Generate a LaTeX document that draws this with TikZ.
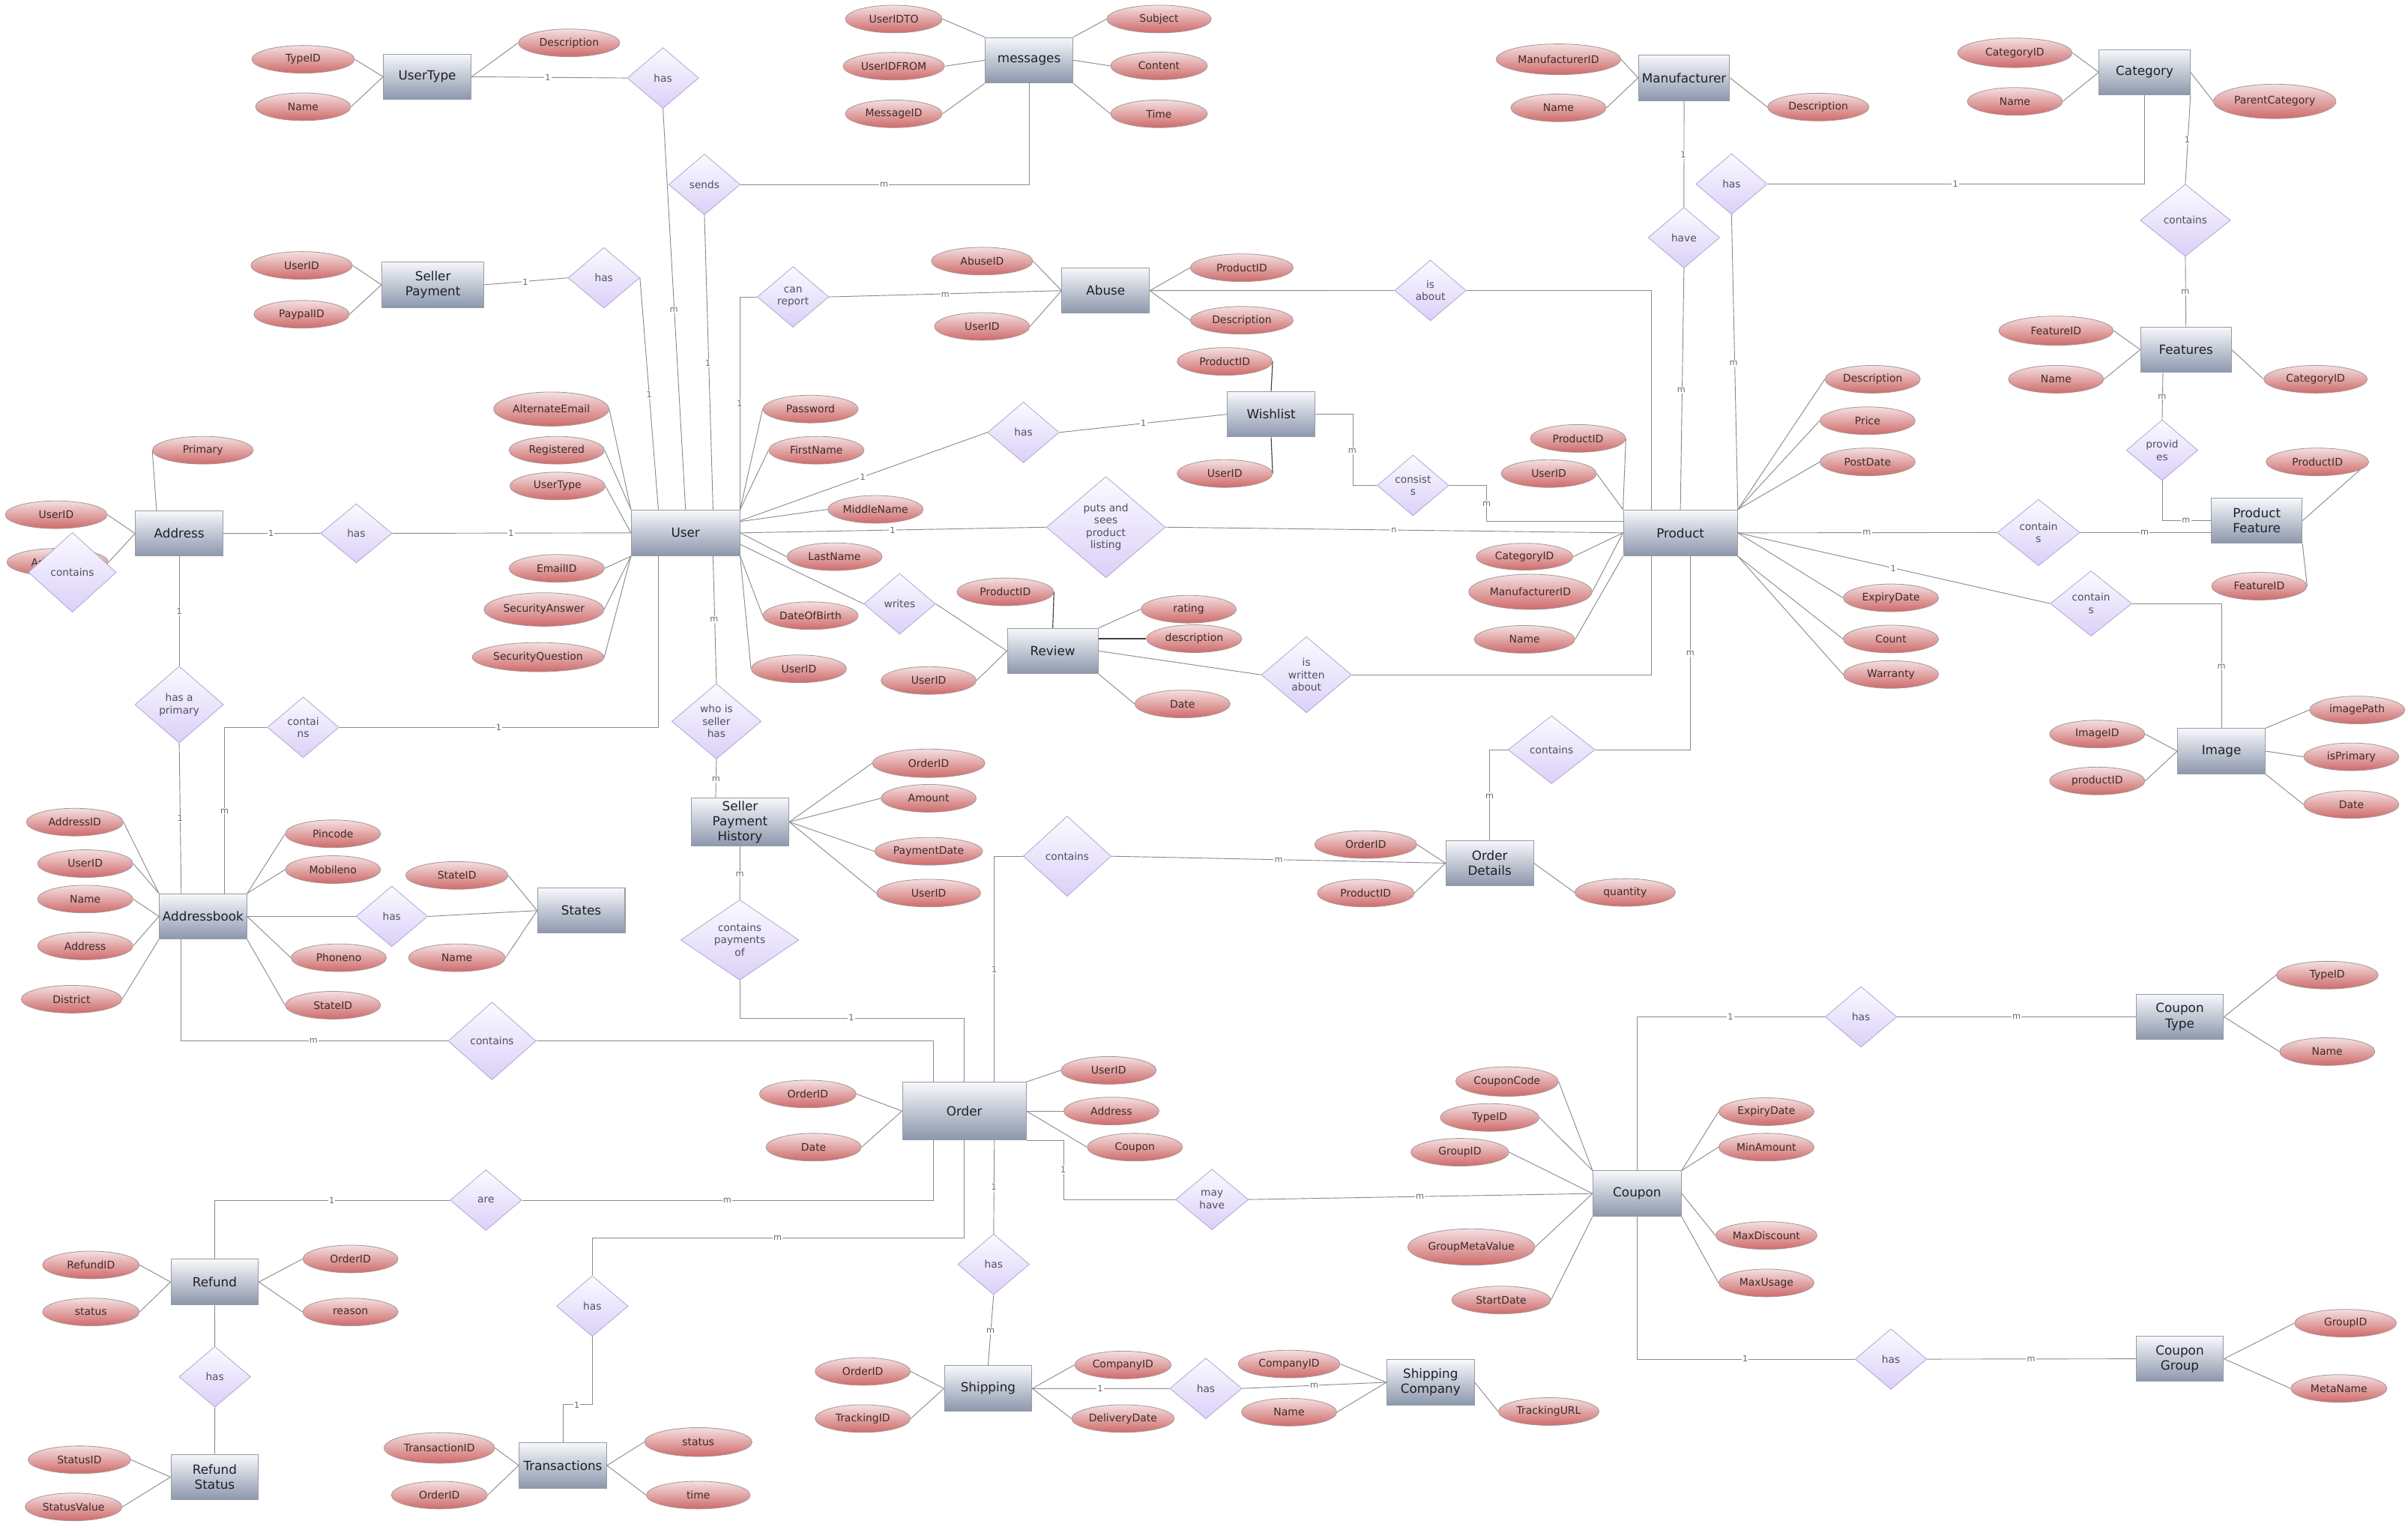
\documentclass[tikz,border=0pt]{standalone}
\usepackage{fontspec}
\setmainfont{DejaVu Sans}
\usetikzlibrary{shapes.geometric}
\pgfdeclarelayer{background}
\pgfsetlayers{background,main}

\definecolor{entTop}{RGB}{247,248,251}
\definecolor{entBot}{RGB}{140,151,172}
\definecolor{entLine}{RGB}{150,155,165}
\definecolor{entText}{RGB}{30,32,42}
\definecolor{attrTop}{RGB}{244,224,224}
\definecolor{attrBot}{RGB}{207,106,106}
\definecolor{attrLine}{RGB}{165,150,150}
\definecolor{attrText}{RGB}{62,42,42}
\definecolor{relTop}{RGB}{251,250,255}
\definecolor{relBot}{RGB}{219,208,248}
\definecolor{relLine}{RGB}{176,166,212}
\definecolor{relText}{RGB}{80,80,96}
\definecolor{wire}{RGB}{138,138,142}
\definecolor{cardText}{RGB}{105,105,105}

\tikzset{
  ent/.style={rectangle,draw=entLine,top color=entTop,bottom color=entBot,line width=0.5pt,
    minimum width=57pt,minimum height=29.5pt,inner sep=0pt,align=center,text=entText,
    font=\fontsize{8.2}{9.8}\selectfont},
  attr/.style={ellipse,draw=attrLine,top color=attrTop,bottom color=attrBot,line width=0.4pt,
    minimum width=62pt,minimum height=18pt,inner sep=0pt,text=attrText,
    font=\fontsize{6.8}{8}\selectfont},
  rel/.style={diamond,draw=relLine,top color=relTop,bottom color=relBot,line width=0.4pt,
    minimum width=46.6pt,minimum height=39.5pt,inner sep=0pt,aspect=1.18,align=center,
    text=relText,font=\fontsize{6.7}{8.1}\selectfont},
  link/.style={draw=wire,line width=0.45pt},
  dark/.style={draw=black!75,line width=0.55pt},
  card/.style={fill=white,inner sep=0.6pt,text=cardText,font=\fontsize{5.5}{6}\selectfont},
}

\begin{document}
\begin{tikzpicture}[x=1pt,y=-1pt]
\useasboundingbox (0,0) rectangle (1568,992);
\begin{pgfonlayer}{background}
  \fill[white] (0,0) rectangle (1568,992);
\end{pgfonlayer}

% user type
\node[ent] (usertype) at (278.2,50) {UserType};
\node[attr,minimum width=66.8pt] (utId) at (197.4,38.6) {TypeID};
\node[attr] (utName) at (197.4,69.5) {Name};
\node[attr,minimum width=66pt] (utDesc) at (370.6,27.9) {Description};
\node[rel] (rUtHas) at (431.7,50.8) {has};

% seller payment
\node[ent,minimum width=66.5pt,minimum height=30pt] (sellerpay) at (281.9,185.4) {Seller\\Payment};
\node[attr,minimum width=66pt] (spUid) at (196.4,172.8) {UserID};
\node[attr] (spPaypal) at (196.4,204.6) {PaypalID};
\node[rel] (rSpHas) at (393.2,180.9) {has};

% messages
\node[ent] (messages) at (670.1,39.2) {messages};
\node[attr,minimum width=63pt] (mTo) at (582,12.4) {UserIDTO};
\node[attr,minimum width=66pt] (mFrom) at (582,43.1) {UserIDFROM};
\node[attr,minimum width=63pt] (mId) at (582,74.1) {MessageID};
\node[attr,minimum width=68pt] (mSubj) at (754.7,12.4) {Subject};
\node[attr,minimum width=63pt] (mCont) at (754.7,42.9) {Content};
\node[attr,minimum width=63pt] (mTime) at (754.7,74.1) {Time};
\node[rel] (rSends) at (458.7,120.1) {sends};

% abuse
\node[ent] (abuse) at (720,189.2) {Abuse};
\node[attr,minimum width=66pt] (abId) at (639.5,170) {AbuseID};
\node[attr] (abUid) at (639.5,212.5) {UserID};
\node[attr,minimum width=67pt] (abPid) at (808.6,174.3) {ProductID};
\node[attr,minimum width=67pt] (abDesc) at (808.6,208.5) {Description};
\node[rel] (rReport) at (516.4,193.3) {can\\report};
\node[rel] (rAbout) at (931.4,189.1) {is\\about};

% wishlist
\node[ent] (wishlist) at (827.7,269.7) {Wishlist};
\node[attr] (wPid) at (797.5,235.3) {ProductID};
\node[attr] (wUid) at (797.5,308.3) {UserID};
\node[rel] (rWish) at (666.4,281.5) {has};
\node[rel] (rConsist) at (920.1,316) {consist\\s};

% manufacturer
\node[ent,minimum width=59.3pt] (manufacturer) at (1096.6,50.7) {Manufacturer};
\node[attr,minimum width=81pt,minimum height=20pt] (mfId) at (1014.8,38.6) {ManufacturerID};
\node[attr] (mfName) at (1014.8,70.2) {Name};
\node[attr,minimum width=66pt] (mfDesc) at (1184,69.7) {Description};
\node[rel] (rHave) at (1096.5,154.7) {have};

% category, features
\node[ent,minimum width=59.2pt] (category) at (1396.5,47) {Category};
\node[attr,minimum width=74.6pt,minimum height=19.2pt] (cId) at (1312,34.4) {CategoryID};
\node[attr] (cName) at (1312,66) {Name};
\node[attr,minimum width=79.7pt,minimum height=22.4pt] (cParent) at (1481.2,66) {ParentCategory};
\node[rel] (rCatHas) at (1127.5,119.8) {has};
\node[rel,minimum width=58.7pt,minimum height=46.9pt] (rCatFeat) at (1423,143.4) {contains};
\node[ent,minimum width=59pt] (features) at (1423.4,227.6) {Features};
\node[attr,minimum width=74.6pt,minimum height=19pt] (fId) at (1338.8,215.3) {FeatureID};
\node[attr] (fName) at (1338.8,246.9) {Name};
\node[attr,minimum width=67.3pt] (fCat) at (1507.8,246.9) {CategoryID};
\node[rel] (rProv) at (1407.9,293.1) {provid\\es};
\node[ent,minimum width=59pt] (prodfeat) at (1469.5,339) {Product\\Feature};
\node[attr,minimum width=66.8pt] (pfPid) at (1509,300.7) {ProductID};
\node[attr] (pfFid) at (1471.1,381.6) {FeatureID};

% address
\node[ent] (address) at (116.7,347.3) {Address};
\node[attr,minimum width=65.5pt] (adPrim) at (132.1,293.1) {Primary};
\node[attr,minimum width=66.3pt] (adUid) at (36.6,335.1) {UserID};
\node[attr,minimum width=66pt] (adId) at (37.5,366) {AddressID};
\node[rel,minimum width=57.2pt,minimum height=51.9pt] (rAdCont) at (47.1,372.6) {contains};
\node[rel,minimum height=38.4pt] (rAdHas) at (232,347.2) {has};
\node[rel,minimum width=57.7pt,minimum height=49.9pt] (rPrimary) at (116.7,458.7) {has a\\primary};

% user
\node[ent,minimum width=70.6pt,minimum height=29.9pt] (user) at (446.4,346.9) {User};
\node[attr,minimum width=75pt,minimum height=22.2pt] (uAlt) at (359,266.3) {AlternateEmail};
\node[attr] (uReg) at (362.5,293.1) {Registered};
\node[attr] (uType) at (363,316.4) {UserType};
\node[attr] (uEmail) at (362.5,370) {EmailID};
\node[attr,minimum width=78pt,minimum height=21.8pt] (uSecA) at (354.2,396.8) {SecurityAnswer};
\node[attr,minimum width=85.7pt,minimum height=19pt] (uSecQ) at (350.4,427.8) {SecurityQuestion};
\node[attr] (uPass) at (527.8,266.3) {Password};
\node[attr] (uFirst) at (531.6,293.1) {FirstName};
\node[attr] (uMid) at (570.1,331.6) {MiddleName};
\node[attr] (uLast) at (543.4,362.4) {LastName};
\node[attr] (uDob) at (527.8,400.8) {DateOfBirth};
\node[attr] (uUid) at (520.2,435.4) {UserID};
\node[rel,minimum width=77.4pt,minimum height=65.8pt] (rPuts) at (720.1,343.2) {puts and\\sees\\product\\listing};
\node[rel] (rWrites) at (585.8,393.1) {writes};
\node[rel,minimum width=58.2pt,minimum height=49pt] (rSeller) at (466.5,469.6) {who is\\seller\\has};
\node[rel] (rBookCont) at (197.4,473.5) {contai\\ns};

% product
\node[ent,minimum width=74.3pt,minimum height=29.9pt] (product) at (1094.2,346.9) {Product};
\node[attr] (pPid) at (1027.5,285.4) {ProductID};
\node[attr] (pUid) at (1008.5,308.3) {UserID};
\node[attr] (pDesc) at (1219.4,246.9) {Description};
\node[attr] (pPrice) at (1216.1,273.9) {Price};
\node[attr] (pPost) at (1216.1,300.7) {PostDate};
\node[attr] (pExp) at (1231.3,389.2) {ExpiryDate};
\node[attr] (pCount) at (1231.3,416) {Count};
\node[attr] (pWarr) at (1231.3,439.1) {Warranty};
\node[attr,minimum width=63pt,minimum height=17.4pt] (pCat) at (992.7,362.4) {CategoryID};
\node[attr,minimum width=80.2pt,minimum height=22.9pt] (pMf) at (996.5,385.3) {ManufacturerID};
\node[attr,minimum width=65.5pt] (pName) at (992.7,416.2) {Name};
\node[rel,minimum width=53.9pt,minimum height=43.1pt] (rPfCont) at (1327.4,346.7) {contain\\s};
\node[rel,minimum width=53.1pt,minimum height=42.5pt] (rImgCont) at (1361.6,392.9) {contain\\s};

% review
\node[ent,minimum width=59.2pt] (review) at (685.5,423.8) {Review};
\node[attr,minimum width=63pt] (rvPid) at (654.6,385.3) {ProductID};
\node[attr] (rvRating) at (774,396.6) {rating};
\node[attr] (rvDesc) at (777.6,415.8) {description};
\node[attr] (rvDate) at (770,458.3) {Date};
\node[attr] (rvUid) at (604.7,443) {UserID};
\node[rel,minimum width=58.7pt,minimum height=49.5pt] (rWritten) at (850.7,439.3) {is\\written\\about};

% image
\node[ent] (image) at (1446.5,489) {Image};
\node[attr] (imId) at (1365.6,477.9) {ImageID};
\node[attr] (imPid) at (1365.6,508.4) {productID};
\node[attr] (imPath) at (1534.9,462.2) {imagePath};
\node[attr] (imPrim) at (1531.1,492.7) {isPrimary};
\node[attr] (imDate) at (1531.1,523.7) {Date};

% seller payment history
\node[ent,minimum width=63.6pt,minimum height=31.6pt] (sph) at (481.9,535.1) {Seller\\Payment\\History};
\node[attr,minimum width=73.3pt,minimum height=18.5pt] (sphOid) at (604.7,496.9) {OrderID};
\node[attr] (sphAmt) at (604.7,519.7) {Amount};
\node[attr,minimum width=70.3pt] (sphDate) at (604.7,554.2) {PaymentDate};
\node[attr,minimum width=67.8pt] (sphUid) at (604.7,581.4) {UserID};
\node[rel,minimum width=76.9pt,minimum height=52.3pt] (rPayOf) at (481.7,611.9) {contains\\payments\\of};

% order details
\node[ent] (orderdet) at (970,561.9) {Order\\Details};
\node[attr,minimum width=66.5pt] (odOid) at (889.3,549.8) {OrderID};
\node[attr,minimum width=63pt] (odPid) at (889.3,581.4) {ProductID};
\node[attr,minimum width=65.5pt] (odQty) at (1058.2,581) {quantity};
\node[rel,minimum width=56.7pt,minimum height=44.2pt] (rOdCont) at (1010.3,488.1) {contains};
\node[rel,minimum width=57.2pt,minimum height=52.3pt] (rOrdCont) at (694.9,557.4) {contains};

% addressbook, states
\node[ent] (addrbook) at (132.2,596.6) {Addressbook};
\node[attr,minimum width=63pt] (abkId) at (48.7,535.2) {AddressID};
\node[attr] (abkUid) at (55.5,562.2) {UserID};
\node[attr] (abkName) at (55.5,585.3) {Name};
\node[attr] (abkAddr) at (55.5,615.8) {Address};
\node[attr,minimum width=65.5pt] (abkDist) at (46.6,650.5) {District};
\node[attr] (abkPin) at (216.8,542.8) {Pincode};
\node[attr] (abkMob) at (216.8,566.1) {Mobileno};
\node[attr] (abkPhone) at (220.6,623.5) {Phoneno};
\node[attr] (abkState) at (216.8,654.4) {StateID};
\node[rel] (rStateHas) at (255.1,596.6) {has};
\node[ent] (states) at (378.5,592.8) {States};
\node[attr,minimum width=66.5pt] (stId) at (297.5,569.9) {StateID};
\node[attr,minimum width=63pt] (stName) at (297.5,623.5) {Name};
\node[rel,minimum width=57.2pt,minimum height=50.6pt] (rOrderBook) at (320.4,677.7) {contains};

% order
\node[ent,minimum width=80.6pt,minimum height=37.6pt] (order) at (627.9,723.3) {Order};
\node[attr,minimum width=63pt] (oId) at (526,712.2) {OrderID};
\node[attr] (oDate) at (529.8,746.8) {Date};
\node[attr] (oUid) at (721.9,696.8) {UserID};
\node[attr] (oAddr) at (723.7,723.3) {Address};
\node[attr] (oCoup) at (739,746.8) {Coupon};
\node[rel] (rAre) at (316.4,781.3) {are};
\node[rel,minimum width=47.4pt] (rMayHave) at (789.2,780.9) {may\\have};
\node[rel] (rShipHas) at (647,823.1) {has};
\node[rel] (rTransHas) at (385.7,850.3) {has};

% coupon
\node[ent,minimum width=57.5pt] (coupon) at (1066,777) {Coupon};
\node[attr,minimum width=66.8pt,minimum height=19.2pt] (cpCode) at (981.3,704.1) {CouponCode};
\node[attr,minimum width=64.3pt] (cpType) at (970,727.5) {TypeID};
\node[attr,minimum width=63.8pt] (cpGroup) at (950.6,750.1) {GroupID};
\node[attr,minimum width=82.7pt,minimum height=23.6pt] (cpMeta) at (958.1,811.8) {GroupMetaValue};
\node[attr,minimum width=64.5pt] (cpStart) at (977.5,846.3) {StartDate};
\node[attr] (cpExp) at (1150.2,723.7) {ExpiryDate};
\node[attr] (cpMin) at (1150.2,746.8) {MinAmount};
\node[attr,minimum width=66pt] (cpMaxD) at (1150.2,804.3) {MaxDiscount};
\node[attr] (cpMaxU) at (1150.2,835.2) {MaxUsage};
\node[rel] (rCtHas) at (1211.8,662) {has};
\node[ent] (coupontype) at (1419.4,662) {Coupon\\Type};
\node[attr,minimum width=66.3pt] (ctId) at (1515.4,634.8) {TypeID};
\node[attr] (ctName) at (1515.4,684.6) {Name};
\node[rel] (rCgHas) at (1231.3,884.8) {has};
\node[ent] (coupongroup) at (1419.4,884.6) {Coupon\\Group};
\node[attr,minimum width=66.3pt] (cgId) at (1527.3,861.4) {GroupID};
\node[attr,minimum width=62.5pt] (cgMeta) at (1523,903.9) {MetaName};

% refund
\node[ent] (refund) at (139.8,834.6) {Refund};
\node[attr,minimum width=63pt] (rfId) at (59.2,823.5) {RefundID};
\node[attr,minimum width=63pt] (rfStatus) at (59.2,854.1) {status};
\node[attr] (rfOid) at (228.2,819.6) {OrderID};
\node[attr] (rfReason) at (228.2,854.1) {reason};
\node[rel] (rRefHas) at (139.9,896.3) {has};
\node[ent] (refstatus) at (139.8,961.6) {Refund\\Status};
\node[attr,minimum width=66.8pt] (rsId) at (51.7,950.3) {StatusID};
\node[attr,minimum width=63pt] (rsVal) at (47.9,981) {StatusValue};

% transactions
\node[ent] (transactions) at (366.5,954) {Transactions};
\node[attr,minimum width=72.1pt,minimum height=19.9pt] (trId) at (286.1,942.6) {TransactionID};
\node[attr,minimum width=62.5pt] (trOid) at (286.1,973.3) {OrderID};
\node[attr,minimum width=70pt,minimum height=18.8pt] (trStatus) at (454.7,938.8) {status};
\node[attr,minimum width=67.6pt] (trTime) at (454.7,973.3) {time};

% shipping
\node[ent] (shipping) at (643.4,903.9) {Shipping};
\node[attr] (shOid) at (561.8,892.8) {OrderID};
\node[attr] (shTrack) at (561.8,923.5) {TrackingID};
\node[attr,minimum width=62.8pt] (shComp) at (731.2,888.6) {CompanyID};
\node[attr,minimum width=66.8pt] (shDel) at (731.2,923.5) {DeliveryDate};
\node[rel,minimum width=47pt] (rShipCoHas) at (785.2,903.9) {has};
\node[ent] (shipco) at (931.5,899.9) {Shipping\\Company};
\node[attr,minimum width=66.3pt] (scComp) at (839.4,888) {CompanyID};
\node[attr] (scName) at (839.4,919.3) {Name};
\node[attr,minimum width=65.5pt] (scUrl) at (1008.5,918.9) {TrackingURL};

\begin{pgfonlayer}{background}
  % attributes
  \foreach \a in {utId,utName} \draw[link] (\a.east) -- (usertype.west);
  \draw[link] (usertype.east) -- (utDesc.west);
  \foreach \a in {spUid,spPaypal} \draw[link] (\a.east) -- (sellerpay.west);
  \draw[link] (mTo.east) -- (messages.north west);
  \draw[link] (mFrom.east) -- (messages.west);
  \draw[link] (mId.east) -- (messages.south west);
  \draw[link] (messages.north east) -- (mSubj.west);
  \draw[link] (messages.east) -- (mCont.west);
  \draw[link] (messages.south east) -- (mTime.west);
  \foreach \a in {abId,abUid} \draw[link] (\a.east) -- (abuse.west);
  \foreach \a in {abPid,abDesc} \draw[link] (abuse.east) -- (\a.west);
  \draw[dark] (wPid.east) -- (wishlist.north);
  \draw[dark] (wUid.east) -- (wishlist.south);
  \foreach \a in {mfId,mfName} \draw[link] (\a.east) -- (manufacturer.west);
  \draw[link] (manufacturer.east) -- (mfDesc.west);
  \foreach \a in {cId,cName} \draw[link] (\a.east) -- (category.west);
  \draw[link] (category.east) -- (cParent.west);
  \foreach \a in {fId,fName} \draw[link] (\a.east) -- (features.west);
  \draw[link] (features.east) -- (fCat.west);
  \draw[link] (pfPid.east) -- (prodfeat.east);
  \draw[link] (pfFid.east) -- (prodfeat.south east);
  \draw[link] (adPrim.west) -- ([xshift=14pt]address.north west);
  \foreach \a in {adUid,adId} \draw[link] (\a.east) -- (address.west);
  \foreach \a in {uAlt,uReg} \draw[link] (\a.east) -- (user.north west);
  \draw[link] (uType.east) -- (user.west);
  \foreach \a in {uEmail,uSecA,uSecQ} \draw[link] (\a.east) -- (user.south west);
  \foreach \a in {uPass,uFirst} \draw[link] (\a.west) -- (user.north east);
  \draw[link] (uMid.west) -- ([yshift=7.4pt]user.east);
  \draw[link] (uLast.west) -- (user.east);
  \foreach \a in {uDob,uUid} \draw[link] (\a.west) -- (user.south east);
  \foreach \a in {pPid,pUid} \draw[link] (\a.east) -- (product.north west);
  \foreach \a in {pDesc,pPrice,pPost} \draw[link] (product.north east) -- (\a.west);
  \draw[link] (product.east) -- (pExp.west);
  \foreach \a in {pCount,pWarr} \draw[link] (product.south east) -- (\a.west);
  \foreach \a in {pCat,pMf} \draw[link] (\a.east) -- (product.west);
  \draw[link] (pName.east) -- (product.south west);
  \draw[dark] (rvPid.east) -- (review.north);
  \draw[link] (review.north east) -- (rvRating.west);
  \draw[dark] ([yshift=8pt]review.east) -- (rvDesc.west);
  \draw[link] (review.south east) -- (rvDate.west);
  \draw[link] (rvUid.east) -- (review.west);
  \foreach \a in {imId,imPid} \draw[link] (\a.east) -- (image.west);
  \draw[link] (image.north east) -- (imPath.west);
  \draw[link] (image.east) -- (imPrim.west);
  \draw[link] (image.south east) -- (imDate.west);
  \foreach \a in {sphOid,sphAmt,sphDate,sphUid} \draw[link] (sph.east) -- (\a.west);
  \foreach \a in {odOid,odPid} \draw[link] (\a.east) -- (orderdet.west);
  \draw[link] (orderdet.east) -- (odQty.west);
  \foreach \a in {abkId,abkUid} \draw[link] (\a.east) -- (addrbook.north west);
  \foreach \a in {abkName,abkAddr} \draw[link] (\a.east) -- (addrbook.west);
  \draw[link] (abkDist.east) -- (addrbook.south west);
  \foreach \a in {abkPin,abkMob} \draw[link] (addrbook.north east) -- (\a.west);
  \draw[link] (addrbook.east) -- (abkPhone.west);
  \draw[link] (addrbook.south east) -- (abkState.west);
  \foreach \a in {stId,stName} \draw[link] (\a.east) -- (states.west);
  \foreach \a in {oId,oDate} \draw[link] (\a.east) -- (order.west);
  \draw[link] (order.north east) -- (oUid.west);
  \foreach \a in {oAddr,oCoup} \draw[link] (order.east) -- (\a.west);
  \foreach \a in {cpCode,cpType} \draw[link] (\a.east) -- (coupon.north west);
  \foreach \a in {cpGroup,cpMeta} \draw[link] (\a.east) -- (coupon.west);
  \draw[link] (cpStart.east) -- (coupon.south west);
  \foreach \a in {cpExp,cpMin} \draw[link] (coupon.north east) -- (\a.west);
  \draw[link] (coupon.east) -- (cpMaxD.west);
  \draw[link] (coupon.south east) -- (cpMaxU.west);
  \foreach \a in {ctId,ctName} \draw[link] (coupontype.east) -- (\a.west);
  \foreach \a in {cgId,cgMeta} \draw[link] (coupongroup.east) -- (\a.west);
  \foreach \a in {rfId,rfStatus} \draw[link] (\a.east) -- (refund.west);
  \foreach \a in {rfOid,rfReason} \draw[link] (refund.east) -- (\a.west);
  \foreach \a in {rsId,rsVal} \draw[link] (\a.east) -- (refstatus.west);
  \foreach \a in {trId,trOid} \draw[link] (\a.east) -- (transactions.west);
  \foreach \a in {trStatus,trTime} \draw[link] (transactions.east) -- (\a.west);
  \foreach \a in {shOid,shTrack} \draw[link] (\a.east) -- (shipping.west);
  \foreach \a in {shComp,shDel} \draw[link] (shipping.east) -- (\a.west);
  \foreach \a in {scComp,scName} \draw[link] (\a.east) -- (shipco.west);
  \draw[link] (shipco.east) -- (scUrl.west);

  % relationships
  \draw[link] (usertype.east) -- (rUtHas.west);
  \draw[link] (rUtHas.south) -- (user.north);
  \draw[link] (rSends.south) -- ([xshift=17.9pt]user.north);
  \draw[link] (rSends.east) -| (messages.south);
  \draw[link] (sellerpay.east) -- (rSpHas.west);
  \draw[link] (rSpHas.east) -- ([xshift=-17.7pt]user.north);
  \draw[link] (user.north east) |- (rReport.west);
  \draw[link] (rReport.east) -- (abuse.west);
  \draw[link] (abuse.east) -- (rAbout.west);
  \draw[link] (rAbout.east) -| ([xshift=-18.9pt]product.north);
  \draw[link] (manufacturer.south) -- (rHave.north);
  \draw[link] (rHave.south) -- (product.north);
  \draw[link] (rCatHas.east) -| (category.south);
  \draw[link] (rCatHas.south) -- (product.north east);
  \draw[link] (category.south east) -- (rCatFeat.north);
  \draw[link] (rCatFeat.south) -- (features.north);
  \draw[link] ([xshift=-15pt]features.south) -- (rProv.north);
  \draw[link] (rProv.south) |- (prodfeat.west);
  \draw[link] ([yshift=7.9pt]user.east) -- (rWish.west);
  \draw[link] (rWish.east) -- (wishlist.west);
  \draw[link] (wishlist.east) -- ++(24.5,0) |- (rConsist.west);
  \draw[link] (rConsist.east) -- ++(24.5,0) |- ([yshift=7.6pt]product.west);
  \draw[link] (address.east) -- (rAdHas.west);
  \draw[link] (rAdHas.east) -- (user.west);
  \draw[link] (user.east) -- (rPuts.west);
  \draw[link] (rPuts.east) -- (product.west);
  \draw[link] (product.east) -- (rPfCont.west);
  \draw[link] (rPfCont.east) -- (rPfCont.east -| prodfeat.west);
  \draw[link] (product.east) -- (rImgCont.west);
  \draw[link] (rImgCont.east) -| (image.north);
  \draw[link] ([yshift=-7.5pt]user.east) -- (rWrites.west);
  \draw[link] (rWrites.east) -- (review.west);
  \draw[link] (review.east) -- (rWritten.west);
  \draw[link] (rWritten.east) -| ([xshift=-18.8pt]product.south);
  \draw[link] (address.south) -- (rPrimary.north);
  \draw[link] (rPrimary.south) -- ([xshift=-14.2pt]addrbook.north);
  \draw[link] (rBookCont.west) -| ([xshift=14pt]addrbook.north);
  \draw[link] (rBookCont.east) -| ([xshift=-17.7pt]user.south);
  \draw[link] ([xshift=17.9pt]user.south) -- (rSeller.north);
  \draw[link] (rSeller.south) -- ([xshift=-15.9pt]sph.north);
  \draw[link] (sph.south) -- (rPayOf.north);
  \draw[link] (rPayOf.south) -- ++(0,24.5) -| (order.north);
  \draw[link] ([xshift=6.4pt]product.south) |- (rOdCont.east);
  \draw[link] (rOdCont.west) -| (orderdet.north);
  \draw[link] ([xshift=19.6pt]order.north) |- (rOrdCont.west);
  \draw[link] (rOrdCont.east) -- (orderdet.west);
  \draw[link] (addrbook.east) -- (rStateHas.west);
  \draw[link] (rStateHas.east) -- (states.west);
  \draw[link] ([xshift=-14.2pt]addrbook.south) |- (rOrderBook.west);
  \draw[link] (rOrderBook.east) -| ([xshift=-20.2pt]order.north);
  \draw[link] (coupon.north) |- (rCtHas.west);
  \draw[link] (rCtHas.east) -- (coupontype.west);
  \draw[link] (coupon.south) |- (rCgHas.west);
  \draw[link] (rCgHas.east) -- (coupongroup.west);
  \draw[link] (refund.north) |- (rAre.west);
  \draw[link] (rAre.east) -| ([xshift=-20.2pt]order.south);
  \draw[link] (order.south east) -- ++(24.2,0) |- (rMayHave.west);
  \draw[link] (rMayHave.east) -- (coupon.west);
  \draw[link] ([xshift=19.6pt]order.south) -- (rShipHas.north);
  \draw[link] (rShipHas.south) -- (shipping.north);
  \draw[link] (shipping.east) -- (rShipCoHas.west);
  \draw[link] (rShipCoHas.east) -- (shipco.west);
  \draw[link] (refund.south) -- (rRefHas.north);
  \draw[link] (rRefHas.south) -- (refstatus.north);
  \draw[link] (transactions.north) -- ++(0,-24.5) -| (rTransHas.south);
  \draw[link] (rTransHas.north) -- ++(0,-24.5) -| (order.south);
\end{pgfonlayer}

% cardinalities
\foreach \x/\y/\t [count=\i] in {356.7/50.6/1, 438.8/201.6/m, 461/236.4/1, 575.7/120.1/m,
  342.1/183.5/1, 422.7/257.1/1, 481.7/262.6/1, 615.5/191.8/m, 1096.1/100.7/1,
  1094.8/253.9/m, 1273.3/119.8/1, 1128.8/236.4/m, 1424.3/91.1/1, 1423/190.2/m,
  1407.9/258.2/m, 1423.5/338.8/m, 561.8/310.5/1, 744.6/275.6/1, 880.5/293.5/m,
  968/327.9/m, 176.5/347.2/1, 332.8/347.2/1, 581.2/345.4/1, 907.7/345.4/n,
  1215.6/346.9/m, 1396.5/346.8/m, 1232.8/370/1, 1446.5/433.9/m, 116.7/397.9/1,
  117.4/532.8/1, 146.2/528/m, 324.7/473.5/1, 465/403.4/m, 466.2/507.3/m,
  481.7/569/m, 554.3/662.5/1, 1100.6/425.2/m, 970/518.2/m, 647.5/631.1/1,
  832.6/560/m, 204.2/677.7/m, 1126.8/662/1, 1313/662/m, 1136.4/884.6/1,
  1322.6/884.7/m, 216/781.3/1, 473.6/781.3/m, 692.4/761.6/1, 924.6/778.9/m,
  647.2/772.9/1, 645/866.6/m, 716.4/903.9/1, 855.8/901.8/m, 375.6/914.8/1,
  506.4/806/m}
{
  \node[card] (card\i) at (\x,\y) {\t};
}
\end{tikzpicture}
\end{document}
